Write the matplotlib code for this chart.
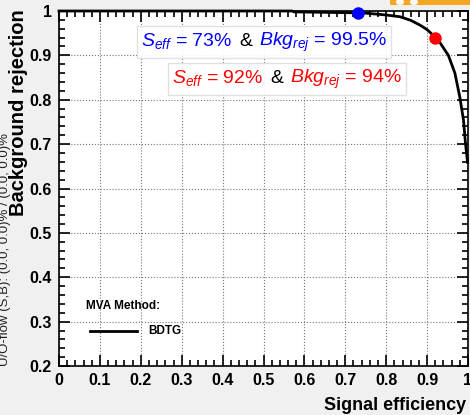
import matplotlib
matplotlib.use("Agg")
import matplotlib.pyplot as plt
from matplotlib.ticker import MultipleLocator
from matplotlib.offsetbox import TextArea, HPacker, AnchoredOffsetbox
from matplotlib.patches import Rectangle, Ellipse

plt.rcParams['font.family'] = ['Liberation Sans', 'DejaVu Sans']
plt.rcParams['mathtext.fontset'] = 'custom'
plt.rcParams['mathtext.it'] = 'Liberation Sans:italic'
plt.rcParams['mathtext.rm'] = 'Liberation Sans'

# ROC curve of the BDTG classifier
sig_eff = [0.0, 0.1, 0.2, 0.3, 0.4, 0.5, 0.57, 0.575, 0.65, 0.717, 0.752, 0.80,
           0.834, 0.86, 0.883, 0.90, 0.914, 0.932, 0.952, 0.968, 0.980, 0.989,
           0.994, 0.999]
bkg_rej = [1.0, 1.0, 1.0, 1.0, 1.0, 1.0, 1.0, 0.998, 0.997, 0.996, 0.995, 0.991,
           0.987, 0.979, 0.968, 0.958, 0.946, 0.928, 0.90, 0.86, 0.806, 0.754,
           0.70, 0.659]

# working points
wp_eff = [0.73, 0.92]
wp_rej = [0.995, 0.94]
wp_col = ['blue', 'red']
wp_eff_txt = ['73%', '92%']
wp_rej_txt = ['99.5%', '94%']

x_ticks = [0, 0.1, 0.2, 0.3, 0.4, 0.5, 0.6, 0.7, 0.8, 0.9, 1]
y_ticks = [0.2, 0.3, 0.4, 0.5, 0.6, 0.7, 0.8, 0.9, 1]

fig = plt.figure(figsize=(4.7, 4.15), dpi=100, facecolor='#f0f0f0')
ax = fig.add_axes([59 / 470, 1 - 366 / 415, 409 / 470, 355 / 415])
ax.set_facecolor('white')

ax.plot(sig_eff, bkg_rej, color='black', lw=2, zorder=3, clip_on=False)
for e, r, c in zip(wp_eff, wp_rej, wp_col):
    ax.plot(e, r, 'o', color=c, ms=8, zorder=4, clip_on=False)

ax.set_xlim(0, 1)
ax.set_ylim(0.2, 1)
ax.set_xticks(x_ticks)
ax.set_xticklabels(['0' if t == 0 else ('1' if t == 1 else f'{t:.1f}') for t in x_ticks])
ax.set_yticks(y_ticks)
ax.set_yticklabels(['1' if t == 1 else f'{t:.1f}' for t in y_ticks])
ax.xaxis.set_minor_locator(MultipleLocator(0.02))
ax.yaxis.set_minor_locator(MultipleLocator(0.02))
ax.tick_params(which='both', direction='in', top=True, right=True, width=1.2)
ax.tick_params(which='major', length=8, labelsize=11.5, pad=5)
ax.tick_params(which='minor', length=4.5)
for lab in ax.get_xticklabels() + ax.get_yticklabels():
    lab.set_fontweight('bold')
ax.grid(True, which='major', color='#777777', ls=':', lw=0.8)
for s in ax.spines.values():
    s.set_linewidth(1.2)

fig.text(466 / 470, 1 - 405 / 415, 'Signal efficiency', ha='right', va='center',
         fontsize=13, fontweight='bold')
fig.text(19 / 470, 1 - 9 / 415, 'Background rejection', rotation=90, ha='center',
         va='top', fontsize=14.5, fontweight='bold')
fig.text(5 / 470, 1 - 133 / 415, 'U/O-flow (S,B): (0.0, 0.0)% / (0.0, 0.0)%',
         rotation=90, ha='center', va='top', fontsize=9.5, color='#222222')

# legend
fig.text(86 / 470, 1 - 306 / 415, 'MVA Method:', ha='left', va='center',
         fontsize=8.5, fontweight='bold')
ax.plot([0.075, 0.19], [0.28, 0.28], color='black', lw=2, clip_on=False)
fig.text(148 / 470, 1 - 331 / 415, 'BDTG', ha='left', va='center',
         fontsize=8.5, fontweight='bold')

# working-point boxes
anchors = [(264 / 470, 1 - 42 / 415), (287 / 470, 1 - 79 / 415)]
for i in range(2):
    c = wp_col[i]
    parts = [TextArea(r'$S_{eff}$ = ' + wp_eff_txt[i], textprops=dict(color=c, fontsize=14)),
             TextArea('&', textprops=dict(color='black', fontsize=14)),
             TextArea(r'$Bkg_{rej}$ = ' + wp_rej_txt[i], textprops=dict(color=c, fontsize=14))]
    box = HPacker(children=parts, align='baseline', pad=0, sep=5)
    anch = AnchoredOffsetbox(loc='center', child=box, pad=0.3, borderpad=0,
                             frameon=True, bbox_to_anchor=anchors[i],
                             bbox_transform=fig.transFigure)
    anch.patch.set_edgecolor('#dddddd')
    anch.patch.set_facecolor('white')
    anch.patch.set_alpha(0.9)
    anch.patch.set_boxstyle('square', pad=0)
    fig.add_artist(anch)

# toolbar strip in the corner
fig.add_artist(Rectangle((390 / 470, 1 - 5 / 415), 80 / 470, 5 / 415,
                         transform=fig.transFigure, color='#f5a623', lw=0))
for cx in [400, 414]:
    fig.add_artist(Ellipse((cx / 470, 1 - 2 / 415), 8 / 470, 6 / 415,
                           transform=fig.transFigure, color='white', lw=0))

fig.savefig('out.png', dpi=100, facecolor=fig.get_facecolor())
